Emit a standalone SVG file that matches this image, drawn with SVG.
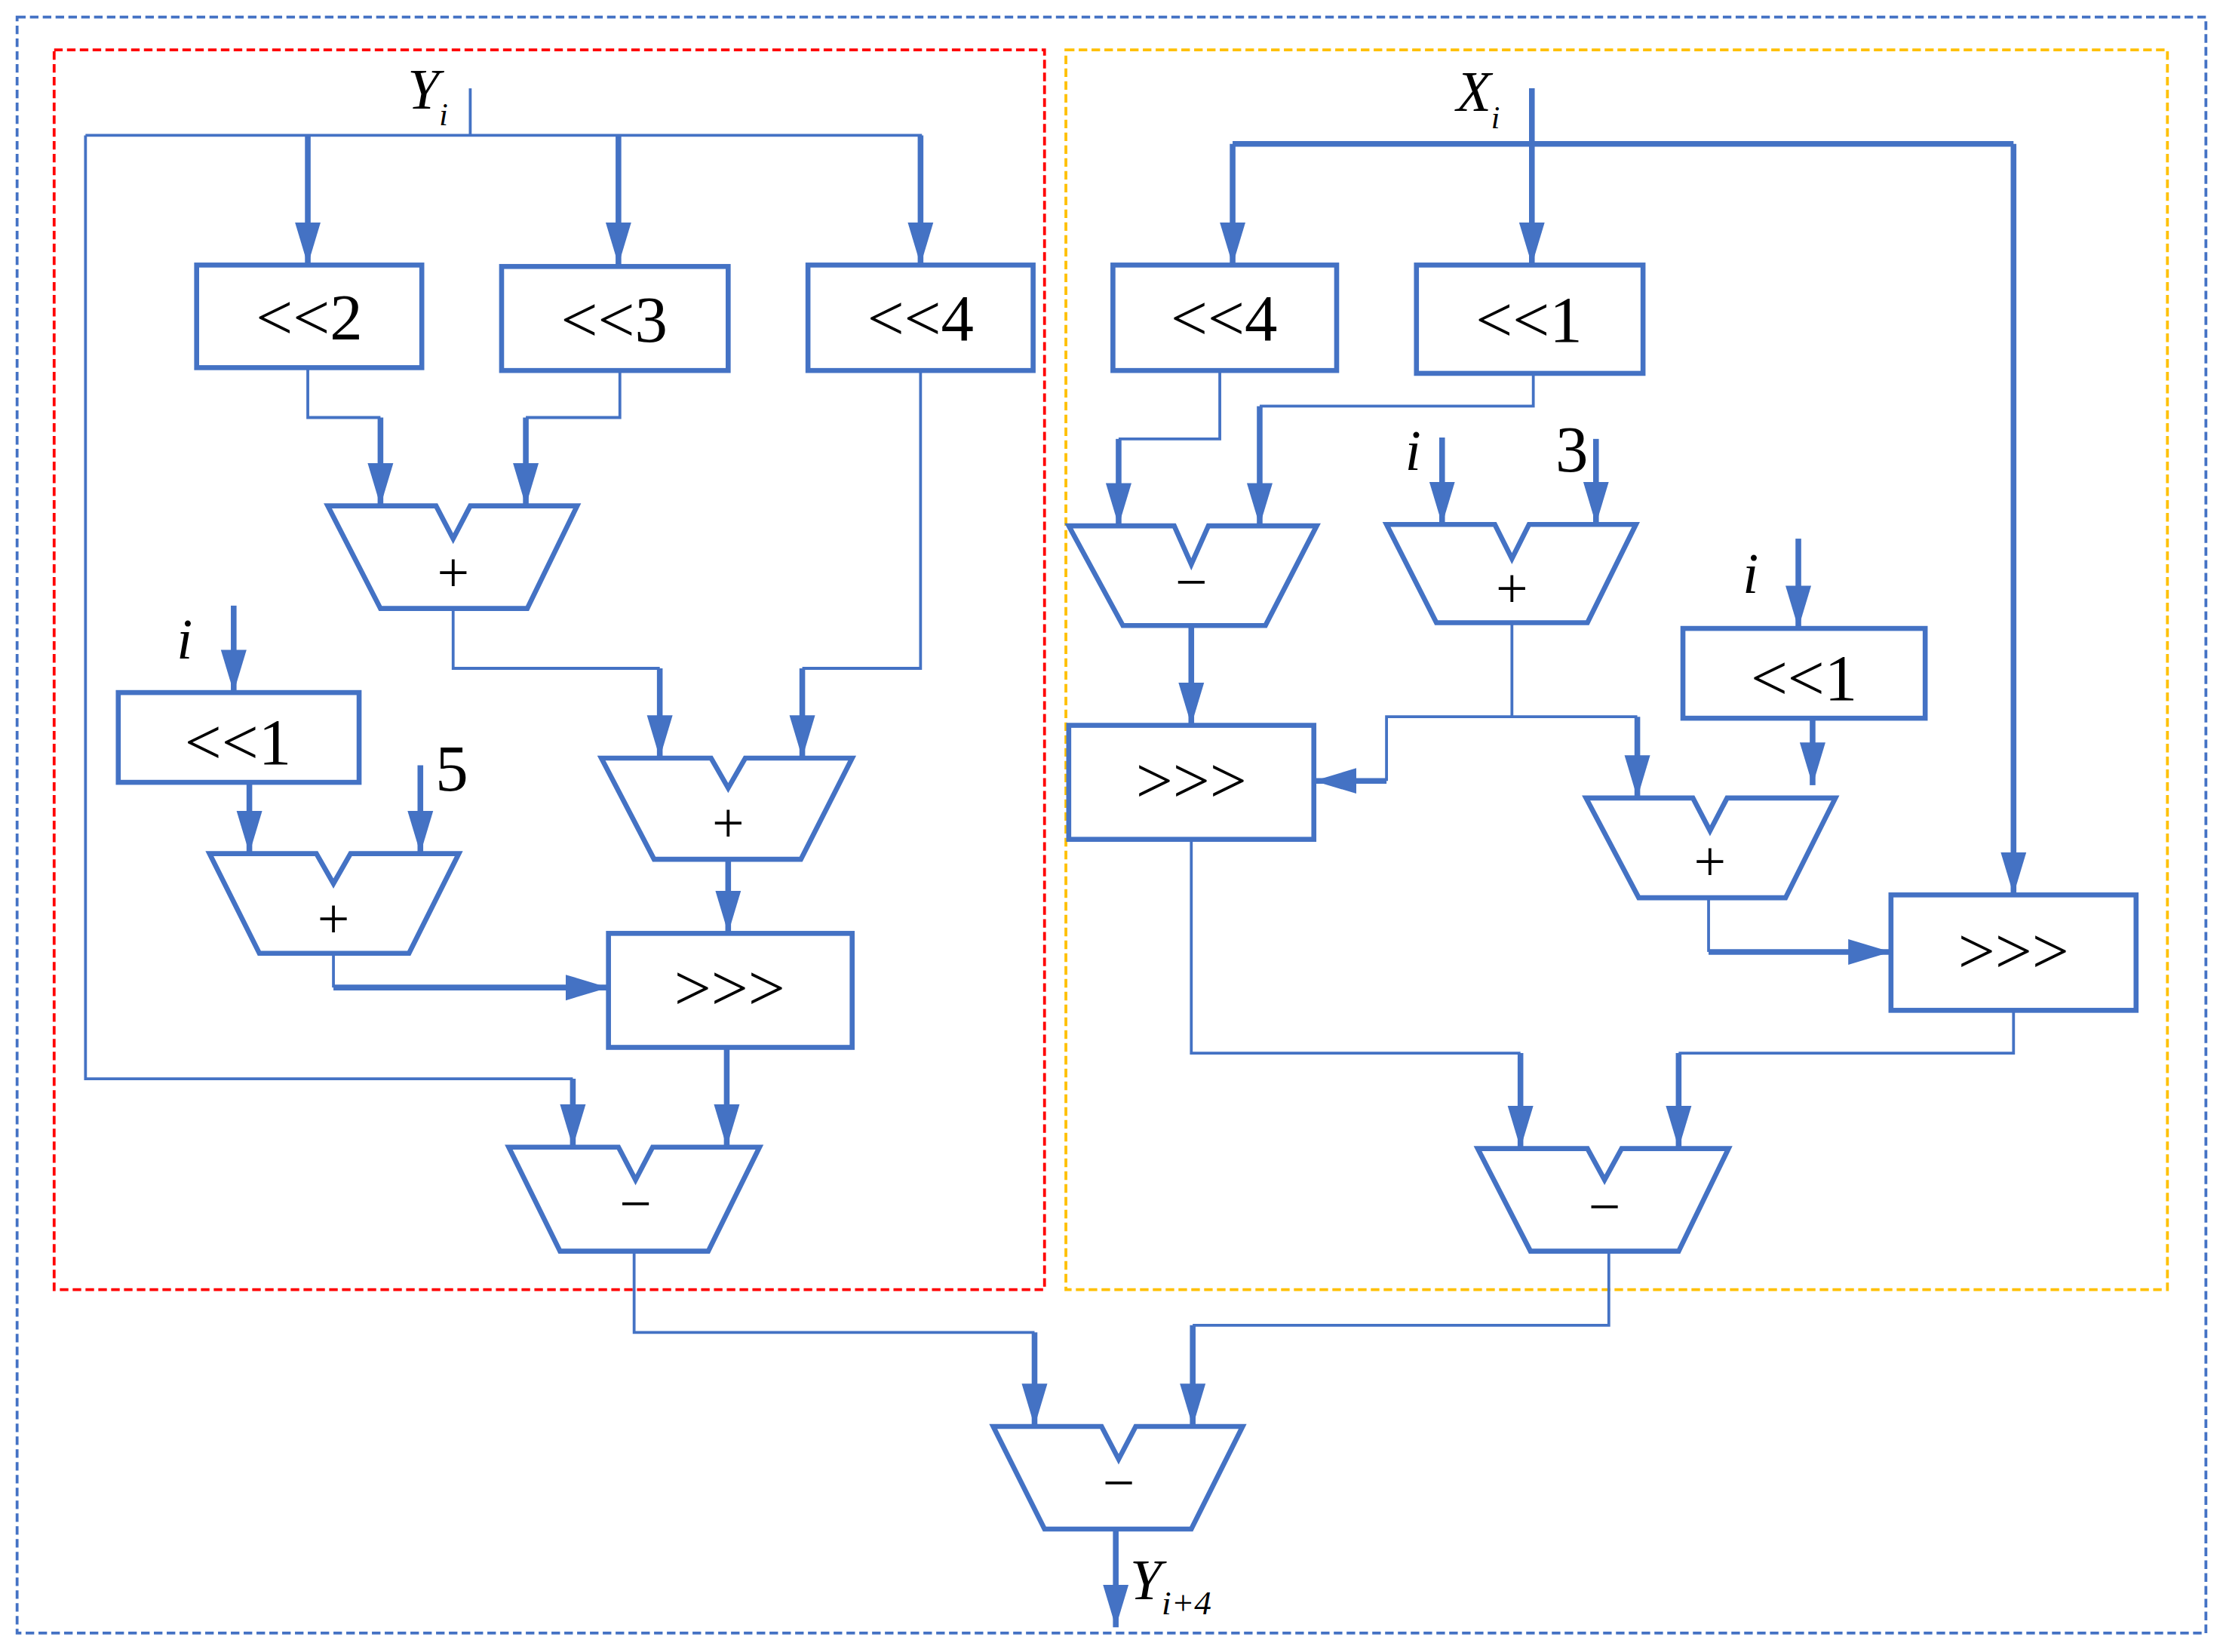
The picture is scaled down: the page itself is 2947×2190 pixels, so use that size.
<svg xmlns="http://www.w3.org/2000/svg" width="2947" height="2190" viewBox="0 0 2947 2190">
<style>
.w{fill:#fff;stroke:#4472c4;stroke-width:3.5}
.c{fill:none;stroke:#4472c4;stroke-width:2}
.k{fill:none;stroke:#4472c4;stroke-width:4}
.t{font-family:"Liberation Serif",serif;font-size:46px;fill:#000;text-anchor:middle}
.op{font-family:"Liberation Serif",serif;font-size:40px;fill:#000;text-anchor:middle}
.it{font-family:"Liberation Serif",serif;font-style:italic;font-size:40px;fill:#000}
</style>
<defs>
<marker id="a" markerUnits="userSpaceOnUse" markerWidth="32" markerHeight="20" refX="30" refY="10" orient="auto"><path d="M0,1 L30,10 L0,19 z" fill="#4472c4"/></marker>
</defs>
<rect width="2947" height="2190" fill="#fff"/>
<g transform="scale(1.8891)">
<g id="frames" fill="none" stroke-dasharray="6,3">
<rect x="12" y="12" width="1536" height="1134" stroke="#4472c4" stroke-width="2"/>
<rect x="38" y="35" width="695" height="870" stroke="#ff0000" stroke-width="2"/>
<rect x="748" y="35" width="773" height="870" stroke="#ffc000" stroke-width="2"/>
</g>
<g id="connectors">
<path class="c" d="M330,62 V95"/>
<path class="c" d="M60,95 H647"/>
<path class="k" d="M216,95 V186" marker-end="url(#a)"/>
<path class="k" d="M434,95 V186" marker-end="url(#a)"/>
<path class="k" d="M646,95 V186" marker-end="url(#a)"/>
<path class="c" d="M216,258 V293 H267"/><path class="k" d="M267,293 V355" marker-end="url(#a)"/>
<path class="c" d="M435,260 V293 H369"/><path class="k" d="M369,293 V355" marker-end="url(#a)"/>
<path class="c" d="M318,427 V469 H463"/><path class="k" d="M463,469 V532" marker-end="url(#a)"/>
<path class="c" d="M646,260 V469 H563"/><path class="k" d="M563,469 V532" marker-end="url(#a)"/>
<path class="k" d="M511,603 V655" marker-end="url(#a)"/>
<path class="k" d="M164,425 V486" marker-end="url(#a)"/>
<path class="k" d="M175,549 V599" marker-end="url(#a)"/>
<path class="k" d="M295,537 V599" marker-end="url(#a)"/>
<path class="c" d="M234,669 V693"/><path class="k" d="M234,693 H427" marker-end="url(#a)"/>
<path class="k" d="M510,735 V805" marker-end="url(#a)"/>
<path class="c" d="M60,95 V757 H402"/><path class="k" d="M402,757 V805" marker-end="url(#a)"/>
<path class="c" d="M445,878 V935 H726"/><path class="k" d="M726,935 V1001" marker-end="url(#a)"/>
<path class="k" d="M1075,62 V186" marker-end="url(#a)"/>
<path class="k" d="M865,101 H1413"/>
<path class="k" d="M865,101 V186" marker-end="url(#a)"/>
<path class="k" d="M1413,101 V628" marker-end="url(#a)"/>
<path class="c" d="M856,260 V308 H785"/><path class="k" d="M785,308 V369" marker-end="url(#a)"/>
<path class="c" d="M1076,262 V285 H884"/><path class="k" d="M884,285 V369" marker-end="url(#a)"/>
<path class="k" d="M836,439 V509" marker-end="url(#a)"/>
<path class="k" d="M1012,307 V368" marker-end="url(#a)"/>
<path class="k" d="M1120,308 V368" marker-end="url(#a)"/>
<path class="c" d="M1061,437 V503 H973 V548"/><path class="k" d="M973,548 H922" marker-end="url(#a)"/>
<path class="c" d="M1061,503 H1149"/><path class="k" d="M1149,503 V560" marker-end="url(#a)"/>
<path class="k" d="M1262,378 V441" marker-end="url(#a)"/>
<path class="k" d="M1272,504 V551" marker-end="url(#a)"/>
<path class="c" d="M1199,630 V668"/><path class="k" d="M1199,668 H1327" marker-end="url(#a)"/>
<path class="c" d="M1413,709 V739 H1178"/><path class="k" d="M1178,739 V806" marker-end="url(#a)"/>
<path class="c" d="M836,589 V739 H1067"/><path class="k" d="M1067,739 V806" marker-end="url(#a)"/>
<path class="c" d="M1129,878 V930 H837"/><path class="k" d="M837,930 V1001" marker-end="url(#a)"/>
<path class="k" d="M783,1073 V1142" marker-end="url(#a)"/>
</g>
<g id="yl2"><rect class="w" x="138" y="186" width="158" height="72"/><text class="t" x="217" y="238">&lt;&lt;2</text></g>
<g id="yl3"><rect class="w" x="352" y="187" width="159" height="73"/><text class="t" x="431" y="240">&lt;&lt;3</text></g>
<g id="yl4"><rect class="w" x="567" y="186" width="158" height="74"/><text class="t" x="646" y="239">&lt;&lt;4</text></g>
<g id="yadd1"><path class="w" d="M230,355 H306 L318,378 L330,355 H405 L370,427 H267 Z"/><text class="op" x="318" y="415">+</text></g>
<g id="yadd2"><path class="w" d="M422,532 H499 L511,553 L523,532 H598 L562,603 H459 Z"/><text class="op" x="511" y="591">+</text></g>
<g id="yl1"><rect class="w" x="83" y="486" width="169" height="63"/><text class="t" x="167" y="536">&lt;&lt;1</text></g>
<g id="yadd3"><path class="w" d="M147,599 H222 L234,620 L246,599 H322 L287,669 H182 Z"/><text class="op" x="234" y="658">+</text></g>
<g id="ysh"><rect class="w" x="427" y="655" width="171" height="80"/><text class="t" x="512" y="709">&gt;&gt;&gt;</text></g>
<g id="ysub"><path class="w" d="M357,805 H434 L446,828 L458,805 H533 L497,878 H393 Z"/><text class="op" x="446" y="858">−</text></g>
<g id="xl4"><rect class="w" x="781" y="186" width="157" height="74"/><text class="t" x="859" y="239">&lt;&lt;4</text></g>
<g id="xl1"><rect class="w" x="994" y="186" width="159" height="76"/><text class="t" x="1073" y="240">&lt;&lt;1</text></g>
<g id="xsub1"><path class="w" d="M750,369 H824 L836,396 L848,369 H924 L888,439 H788 Z"/><text class="op" x="836" y="422">−</text></g>
<g id="xadd1"><path class="w" d="M973,368 H1049 L1061,392 L1073,368 H1148 L1114,437 H1008 Z"/><text class="op" x="1061" y="426">+</text></g>
<g id="xsh1"><rect class="w" x="750" y="509" width="172" height="80"/><text class="t" x="836" y="563">&gt;&gt;&gt;</text></g>
<g id="xl1b"><rect class="w" x="1181" y="441" width="170" height="63"/><text class="t" x="1266" y="491">&lt;&lt;1</text></g>
<g id="xadd2"><path class="w" d="M1113,560 H1188 L1200,583 L1212,560 H1288 L1253,630 H1150 Z"/><text class="op" x="1200" y="618">+</text></g>
<g id="xsh2"><rect class="w" x="1327" y="628" width="172" height="81"/><text class="t" x="1413" y="683">&gt;&gt;&gt;</text></g>
<g id="xsub2"><path class="w" d="M1037,806 H1114 L1126,828 L1138,806 H1213 L1178,878 H1074 Z"/><text class="op" x="1126" y="860">−</text></g>
<g id="fsub"><path class="w" d="M697,1001 H773 L785,1024 L797,1001 H872 L836,1073 H733 Z"/><text class="op" x="785" y="1054">−</text></g>
<g id="labels">
<text class="it" x="286" y="76">Y<tspan font-size="22" dy="12">i</tspan></text>
<text class="it" x="1022" y="78">X<tspan font-size="22" dy="12">i</tspan></text>
<text class="it" x="124" y="462">i</text>
<text class="t" x="317" y="555" font-size="40">5</text>
<text class="it" x="986" y="330">i</text>
<text class="t" x="1103" y="331" font-size="40">3</text>
<text class="it" x="1223" y="416">i</text>
<text class="it" x="793" y="1122">Y<tspan font-size="24" dy="11">i+4</tspan></text>
</g>
</g>
</svg>
